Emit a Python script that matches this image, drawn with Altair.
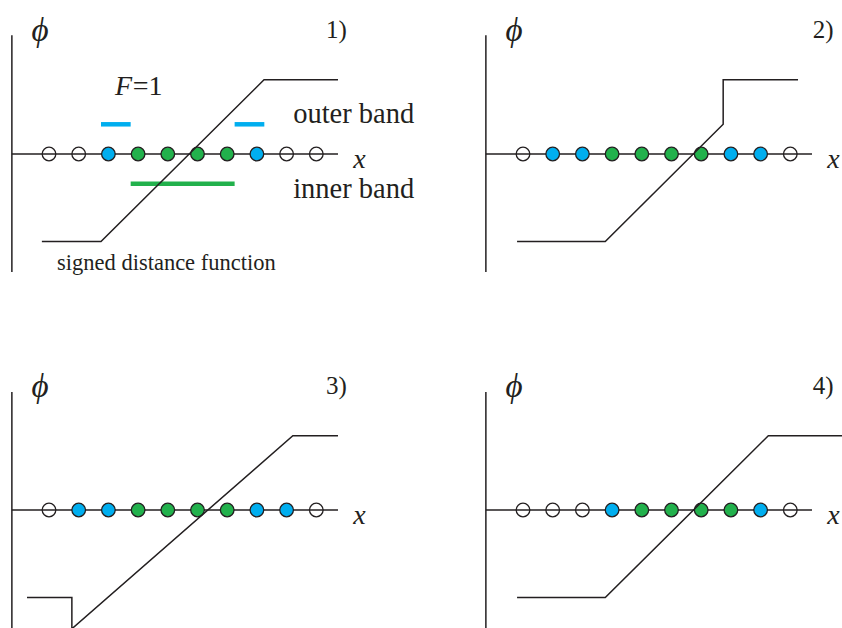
import altair as alt
import pandas as pd

# ---------------- data ----------------
# grid nodes along x, and which band each node belongs to in each panel
node_index = list(range(10))
node_state = {
    1: ["far", "far", "outer", "inner", "inner", "inner", "inner", "outer", "far", "far"],
    2: ["far", "outer", "outer", "inner", "inner", "inner", "inner", "outer", "outer", "far"],
    3: ["far", "outer", "outer", "inner", "inner", "inner", "inner", "outer", "outer", "far"],
    4: ["far", "far", "far", "outer", "inner", "inner", "inner", "inner", "outer", "far"],
}

# level-set function phi(x) of each panel, as polyline vertices
phi_x = {
    1: [-0.24, 1.75, 7.24, 9.73],
    2: [-0.20, 2.77, 6.74, 6.74, 9.26],
    3: [-0.74, 0.77, 0.77, 8.21, 9.73],
    4: [-0.20, 2.77, 8.26, 10.75],
}
phi_y = {
    1: [-2.95, -2.95, 2.5, 2.5],
    2: [-2.95, -2.95, 1.0, 2.5, 2.5],
    3: [-2.95, -2.95, -4.0, 2.5, 2.5],
    4: [-2.95, -2.95, 2.5, 2.5],
}

# extent of the narrow bands (shown in panel 1)
band_kind = ["outer", "outer", "inner"]
band_start = [1.75, 6.25, 2.75]
band_end = [2.75, 7.25, 6.25]
band_level = [1.0, 1.0, -1.0]

panel_labels = {1: "1)", 2: "2)", 3: "3)", 4: "4)"}

# ---------------- styling ----------------
INK = "#231f20"
BLUE = "#00aeef"
GREEN = "#22b14c"
SERIF = "Liberation Serif"

UNIT = 29.7            # pixels per grid spacing (same on both axes)
X_LO = -49 / UNIT      # x value at the left edge of a panel
PHI_HI = 154 / UNIT    # phi value at the top edge of a panel


def panel(k, width, height, left_col, top_row):
    xs = alt.Scale(domain=[X_LO, X_LO + width / UNIT], nice=False, zero=False)
    ys = alt.Scale(domain=[PHI_HI - height / UNIT, PHI_HI], nice=False, zero=False)

    def X(f="x"):
        return alt.X(f"{f}:Q", scale=xs, axis=None)

    def Y(f="y"):
        return alt.Y(f"{f}:Q", scale=ys, axis=None)

    # coordinate axes
    ax_top = 4.0 if top_row else 3.97
    axes = pd.DataFrame({
        "x": [-1.25, -1.25], "x2": [-1.25, 9.73],
        "y": [ax_top, 0.0], "y2": [-3.97 if top_row else -4.6, 0.0],
    })
    axes_layer = alt.Chart(axes).mark_rule(color=INK, strokeWidth=1.5, clip=True).encode(
        x=X(), x2="x2:Q", y=Y(), y2="y2:Q"
    )

    nodes = pd.DataFrame({"x": node_index, "y": [0.0] * 10, "state": node_state[k]})
    nodes_layer = alt.Chart(nodes).mark_point(
        shape="circle", filled=True, size=185, stroke=INK, strokeWidth=1.3, opacity=1
    ).encode(
        x=X(), y=Y(),
        fill=alt.Fill("state:N", legend=None,
                      scale=alt.Scale(domain=["far", "outer", "inner"],
                                      range=["transparent", BLUE, GREEN])),
    )

    curve = pd.DataFrame({"x": phi_x[k], "y": phi_y[k], "k": range(len(phi_x[k]))})
    curve_layer = alt.Chart(curve).mark_line(color=INK, strokeWidth=1.5, clip=True).encode(
        x=X(), y=Y(), order="k:Q"
    )

    lab_x = 9.33 if left_col else 9.76
    italic = pd.DataFrame({
        "x": [-0.30, 10.24], "y": [3.80, -0.47],
        "t": ["\u03d5", "x"], "fs": [33, 28], "al": ["center", "left"],
    })
    upright = pd.DataFrame({"x": [lab_x], "y": [3.92], "t": [panel_labels[k]], "fs": [25]})

    layers = [axes_layer, nodes_layer, curve_layer]

    if k == 1:
        bands = pd.DataFrame({"x": band_start, "x2": band_end, "y": band_level, "kind": band_kind})
        band_layer = alt.Chart(bands).mark_rule(strokeWidth=4.5).encode(
            x=X(), x2="x2:Q", y=Y(),
            color=alt.Color("kind:N", legend=None,
                            scale=alt.Scale(domain=["outer", "inner"], range=[BLUE, GREEN])),
        )
        layers.insert(1, band_layer)
        italic = pd.concat([italic, pd.DataFrame({
            "x": [2.22], "y": [1.99], "t": ["F"], "fs": [28], "al": ["left"]})])
        upright = pd.concat([upright, pd.DataFrame({
            "x": [2.82, 8.22, 8.22, 0.27],
            "y": [1.99, 1.04, -1.48, -3.91],
            "t": ["=1", "outer band", "inner band", "signed distance function"],
            "fs": [28, 28.5, 28.5, 22.5],
        })])

    for al in ["center", "left"]:
        sub = italic[italic["al"] == al]
        layers.append(alt.Chart(sub).mark_text(
            font=SERIF, fontStyle="italic", align=al, baseline="alphabetic", color=INK
        ).encode(x=X(), y=Y(), text="t:N", size=alt.Size("fs:Q", scale=None, legend=None)))

    layers.append(alt.Chart(upright).mark_text(
        font=SERIF, align="left", baseline="alphabetic", color=INK
    ).encode(x=X(), y=Y(), text="t:N", size=alt.Size("fs:Q", scale=None, legend=None)))

    return alt.layer(*layers).properties(width=width, height=height)


W_L, W_R = 474, 368
H_T, H_B = 356, 272

chart = alt.concat(
    panel(1, W_L, H_T, True, True), panel(2, W_R, H_T, False, True),
    panel(3, W_L, H_B, True, False), panel(4, W_R, H_B, False, False),
    columns=2, spacing=0,
).properties(padding=0, background="white").configure_view(stroke=None)

chart.save("out.html", embed_options={"renderer": "svg", "actions": False})
